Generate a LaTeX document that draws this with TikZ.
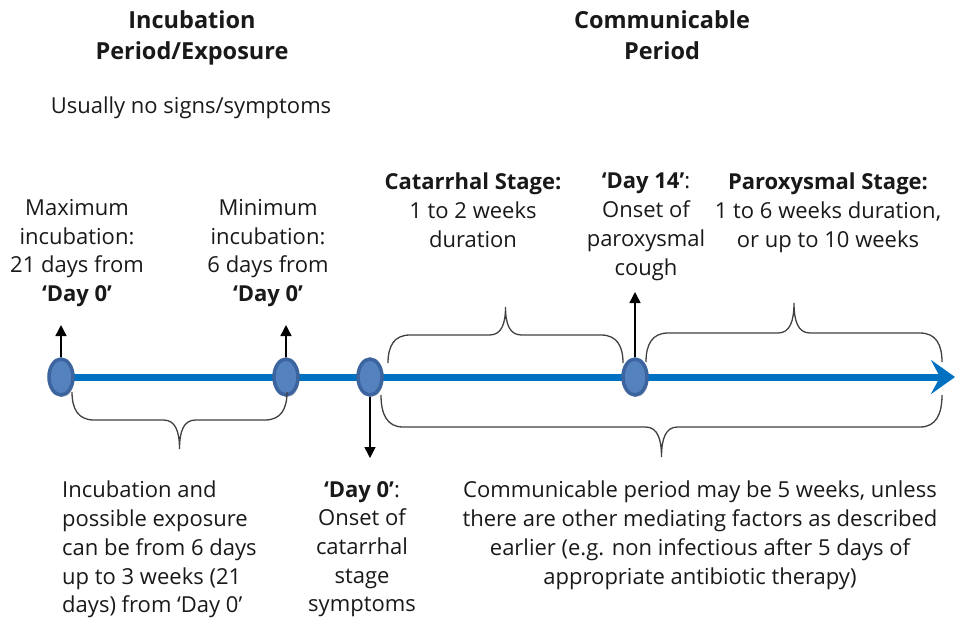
\documentclass[tikz,border=0pt]{standalone}
\usepackage{fontspec}
\setmainfont{Open Sans}
\usepackage{xcolor}
\usetikzlibrary{arrows.meta,shapes.geometric,shadows,backgrounds}

\definecolor{lineBlue}{RGB}{0,112,192}
\definecolor{dotFill}{RGB}{84,130,190}
\definecolor{dotEdge}{RGB}{60,100,158}

% curly brace: x left, x right, y of the ends, y of the flat part, y of the tip
\newcommand{\timebrace}[5]{%
  \draw[bracket] (#1,#3) .. controls (#1,{0.4*#3+0.6*#4}) and (#1+6,#4) .. (#1+22,#4)
    -- ({(#1+#2)/2-16},#4) .. controls ({(#1+#2)/2-4},#4) and ({(#1+#2)/2},{0.6*#4+0.4*#5}) .. ({(#1+#2)/2},#5)
    .. controls ({(#1+#2)/2},{0.6*#4+0.4*#5}) and ({(#1+#2)/2+4},#4) .. ({(#1+#2)/2+16},#4)
    -- (#2-22,#4) .. controls (#2-6,#4) and (#2,{0.4*#3+0.6*#4}) .. (#2,#3);}

\begin{document}
\begin{tikzpicture}[x=1pt, y=-1pt,
    every node/.style={inner sep=0pt, align=center, anchor=north, text=black!90},
    body/.style={font=\fontsize{22}{28.7}\selectfont},
    head/.style={font=\fontsize{23.5}{31}\selectfont\bfseries},
    event/.style={ellipse, anchor=center, minimum width=24pt, minimum height=36pt, fill=dotFill, draw=dotEdge, line width=3.5pt,
        drop shadow={shadow xshift=1.5pt, shadow yshift=-2pt, opacity=0.35, fill=black!60}},
    marker/.style={line width=1.4pt, -{Triangle[width=11pt,length=11pt]}},
    timeline/.style={line width=7pt, lineBlue, -{Stealth[length=24pt,width=34pt,inset=9pt]}},
    bracket/.style={line width=1.3pt, black!75}]
    \useasboundingbox (0,0) rectangle (955,619);

    % headings
    \node[head] (incTitle) at (192,10) {Incubation\\Period/Exposure};
    \node[head] (commTitle) at (662,10) {Communicable\\Period};
    \node[body] (noSigns) at (191,97) {Usually no signs/symptoms};

    % events on the time line
    \node[event] (dotMax) at (61,377) {};
    \node[event] (dotMin) at (286,377) {};
    \node[event] (dotZero) at (370,377) {};
    \node[event] (dotFourteen) at (635,377) {};
    \coordinate (lineEnd) at (955,377);
    \begin{pgfonlayer}{background}
        \draw[timeline] (dotMax.center) -- (lineEnd);
    \end{pgfonlayer}

    \coordinate (tipMax) at (61,325);
    \coordinate (tipMin) at (286,325);
    \coordinate (tipZero) at (370,458);
    \coordinate (tipFourteen) at (635,292);
    \draw[marker] (dotMax.north) -- (tipMax);
    \draw[marker] (dotMin.north) -- (tipMin);
    \draw[marker] (dotZero.south) -- (tipZero);
    \draw[marker] (dotFourteen.north) -- (tipFourteen);

    % labels above
    \node[body] (maxInc) at (77,199) {Maximum\\incubation:\\21 days from\\\textbf{‘Day 0’}};
    \node[body] (minInc) at (268,199) {Minimum\\incubation:\\6 days from\\\textbf{‘Day 0’}};
    \node[body] (catStage) at (473,173) {\textbf{Catarrhal Stage:}\\1 to 2 weeks\\duration};
    \node[body] (dayFourteen) at (646,173) {\textbf{‘Day 14’}:\\Onset of\\paroxysmal\\cough};
    \node[body] (paroxStage) at (828,173) {\textbf{Paroxysmal Stage:}\\1 to 6 weeks duration,\\or up to 10 weeks};

    % labels below
    \node[body, anchor=north west, align=left] (incNote) at (62,481) {Incubation and\\possible exposure\\can be from 6 days\\up to 3 weeks (21\\days) from ‘Day 0’};
    \node[body] (dayZero) at (362,481) {\textbf{‘Day 0’}:\\Onset of\\catarrhal\\stage\\symptoms};
    \node[body] (commNote) at (700,481) {Communicable period may be 5 weeks, unless\\there are other mediating factors as described\\earlier (e.g. non infectious after 5 days of\\appropriate antibiotic therapy)};

    % braces
    \timebrace{72}{287}{392}{420}{449}
    \timebrace{388}{623}{363}{335}{307}
    \timebrace{646}{942}{362}{333}{303}
    \timebrace{381}{942}{395}{427}{457}
\end{tikzpicture}
\end{document}
